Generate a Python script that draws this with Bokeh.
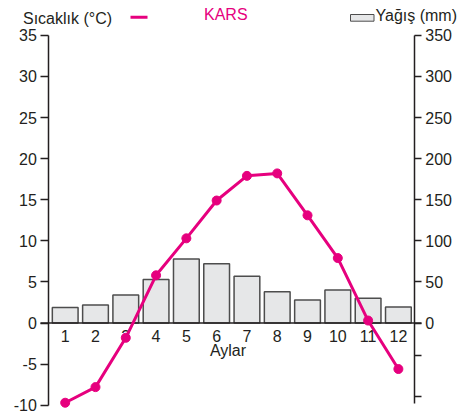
from bokeh.plotting import figure
from bokeh.models import Range1d, LinearAxis, FixedTicker, Label
from bokeh.core.properties import value
from bokeh.embed import file_html
from bokeh.resources import INLINE

months = [1, 2, 3, 4, 5, 6, 7, 8, 9, 10, 11, 12]
month_labels = ["1", "2", "3", "4", "5", "6", "7", "8", "9", "10", "11", "12"]
temperature = [-9.7, -7.8, -1.8, 5.8, 10.3, 14.9, 17.9, 18.2, 13.1, 7.9, 0.3, -5.6]
precipitation = [19, 22, 34, 53, 78, 72, 57, 38, 28, 40, 30, 19.5]
temp_ticks = [-10, -5, 0, 5, 10, 15, 20, 25, 30, 35]
rain_ticks = [0, 50, 100, 150, 200, 250, 300, 350]
rain_minor_marks = [-39, -89]

title_text = "KARS"
temp_label = "Sıcaklık (°C)"
rain_label = "Yağış (mm)"
x_label = "Aylar"

FONT = "Liberation Sans"
MAGENTA = "#e6007e"
BAR_FILL = "#e6e7e8"
BAR_LINE = "#4d4d4d"
INK = "#231f20"

# figure size and where it sits on the page
W, H = 470, 415
OX, OY = 0, 0
# page-pixel calibration of the data scales
X_PX_PER_MONTH = 30.29
X_MONTH1_PAGE = 64.7
Y_PX_PER_DEG = 8.22
Y_ZERO_PAGE = 322.5


def px_x(page_x):
    return 1 + (page_x - X_MONTH1_PAGE) / X_PX_PER_MONTH


def px_y(page_y):
    return (Y_ZERO_PAGE - page_y) / Y_PX_PER_DEG


y_lo, y_hi = px_y(OY + H), px_y(OY)
p = figure(width=W, height=H, output_backend="svg", toolbar_location=None,
           x_range=Range1d(px_x(OX), px_x(OX + W)), y_range=Range1d(y_lo, y_hi),
           min_border=0, x_axis_location=None, y_axis_location=None)
p.outline_line_color = None
p.grid.visible = False
p.background_fill_color = "white"
p.border_fill_color = "white"

p.extra_y_ranges = {"rain": Range1d(y_lo * 10, y_hi * 10)}


def style_axis(ax, tick_out, standoff):
    ax.axis_line_color = INK
    ax.axis_line_width = 1.5
    ax.major_tick_line_color = INK
    ax.major_tick_line_width = 1.5
    ax.major_tick_out = tick_out
    ax.major_tick_in = 0
    ax.minor_tick_line_color = None
    ax.major_label_standoff = standoff
    ax.major_label_text_font = FONT
    ax.major_label_text_font_size = "16px"
    ax.major_label_text_color = INK


# left axis (temperature)
la = LinearAxis(ticker=FixedTicker(ticks=temp_ticks), bounds=(-10, 35),
                fixed_location=px_x(48.3))
la.major_label_overrides = {t: str(t) for t in temp_ticks if t < 0}
style_axis(la, 8, 4)
p.add_layout(la, "left")

# right axis (precipitation)
ra = LinearAxis(y_range_name="rain", ticker=FixedTicker(ticks=rain_minor_marks + rain_ticks),
                bounds=(-98, 350), fixed_location=px_x(413.8))
ra.major_label_overrides = {t: "" for t in rain_minor_marks}
style_axis(ra, 7, 4)
p.add_layout(ra, "right")

# bars
p.vbar(x=months, top=precipitation, bottom=0, width=0.85, y_range_name="rain",
       fill_color=BAR_FILL, line_color=BAR_LINE, line_width=1.5)

# zero baseline
p.segment(x0=[px_x(40)], y0=[0], x1=[px_x(421)], y1=[0], line_color=INK, line_width=1.5)

# month labels (drawn beneath the temperature line)
p.text(x=months, y=[px_y(335)] * len(months), text=month_labels,
       text_font=value(FONT), text_font_size="16px", text_color=INK,
       text_align="center", text_baseline="middle")

# temperature line
p.line(months, temperature, line_color=MAGENTA, line_width=3)
p.scatter(months, temperature, size=9, fill_color=MAGENTA, line_color=MAGENTA)

p.add_layout(Label(x=px_x(227.5), y=px_y(349.5), text=x_label, text_font=FONT,
                   text_font_size="16px", text_color=INK,
                   text_align="center", text_baseline="middle"))

# header texts
p.add_layout(Label(x=px_x(22.5), y=px_y(17.5), text=temp_label, text_font=FONT,
                   text_font_size="16px", text_color=INK,
                   text_align="left", text_baseline="middle"))
p.segment(x0=[px_x(130)], y0=[px_y(16.7)], x1=[px_x(147)], y1=[px_y(16.7)],
          line_color=MAGENTA, line_width=3)
p.add_layout(Label(x=px_x(225.3), y=px_y(13.8), text=title_text, text_font=FONT,
                   text_font_size="16px", text_color=MAGENTA,
                   text_align="center", text_baseline="middle"))
p.quad(left=[px_x(350)], right=[px_x(373.5)], top=[px_y(14)], bottom=[px_y(20.7)],
       fill_color=BAR_FILL, line_color=BAR_LINE, line_width=1)
p.add_layout(Label(x=px_x(375), y=px_y(15.3), text=rain_label, text_font=FONT,
                   text_font_size="16px", text_color=INK,
                   text_align="left", text_baseline="middle"))

open("out.html", "w").write(file_html(p, INLINE))
